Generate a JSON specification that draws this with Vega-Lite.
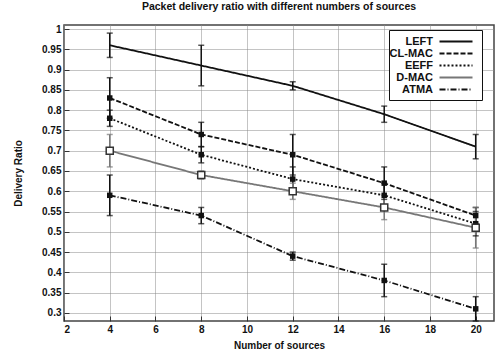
{
  "$schema": "https://vega.github.io/schema/vega-lite/v6.json",
  "autosize": "none",
  "width": 430,
  "height": 296,
  "padding": {"left": 64, "top": 25, "right": 3, "bottom": 39},
  "background": "white",
  "config": {
    "font": "Liberation Sans",
    "view": {"stroke": "#444", "strokeWidth": 1.5},
    "axis": {"labelFont": "Liberation Sans", "labelFontWeight": "bold", "labelFontSize": 10, "labelColor": "#111", "labelOverlap": false, "titleFont": "Liberation Sans", "titleFontWeight": "bold", "titleFontSize": 10, "titleColor": "#111", "grid": true, "gridDash": [1, 1], "gridColor": "#888", "gridWidth": 1, "gridOpacity": 1, "domain": false, "tickColor": "#333", "tickSize": -5, "labelPadding": 8},
    "legend": {"orient": "none", "legendX": 325, "legendY": 5, "strokeColor": "#111", "fillColor": "white", "padding": 5, "labelFont": "Liberation Sans", "labelFontWeight": "bold", "labelFontSize": 11, "labelColor": "#111", "labelAlign": "right", "symbolType": "M-3,0H3", "symbolSize": 121, "symbolStrokeWidth": 2, "rowPadding": -1}
  },
  "title": {"text": "Packet delivery ratio with different numbers of sources", "fontSize": 10.5, "fontWeight": "bold", "font": "Liberation Sans", "color": "#111", "offset": 12, "anchor": "middle"},
  "data": {"values": [
    {"series": "LEFT", "x": 4, "y": 0.96, "lo": 0.93, "hi": 0.99},
    {"series": "LEFT", "x": 8, "y": 0.91, "lo": 0.86, "hi": 0.96},
    {"series": "LEFT", "x": 12, "y": 0.86, "lo": 0.85, "hi": 0.87},
    {"series": "LEFT", "x": 16, "y": 0.79, "lo": 0.77, "hi": 0.81},
    {"series": "LEFT", "x": 20, "y": 0.71, "lo": 0.68, "hi": 0.74},
    {"series": "CL-MAC", "x": 4, "y": 0.83, "lo": 0.78, "hi": 0.88},
    {"series": "CL-MAC", "x": 8, "y": 0.74, "lo": 0.71, "hi": 0.77},
    {"series": "CL-MAC", "x": 12, "y": 0.69, "lo": 0.64, "hi": 0.74},
    {"series": "CL-MAC", "x": 16, "y": 0.62, "lo": 0.58, "hi": 0.66},
    {"series": "CL-MAC", "x": 20, "y": 0.54, "lo": 0.52, "hi": 0.56},
    {"series": "EEFF", "x": 4, "y": 0.78, "lo": 0.76, "hi": 0.8},
    {"series": "EEFF", "x": 8, "y": 0.69, "lo": 0.67, "hi": 0.71},
    {"series": "EEFF", "x": 12, "y": 0.63, "lo": 0.6, "hi": 0.66},
    {"series": "EEFF", "x": 16, "y": 0.59, "lo": 0.56, "hi": 0.62},
    {"series": "EEFF", "x": 20, "y": 0.52, "lo": 0.49, "hi": 0.55},
    {"series": "D-MAC", "x": 4, "y": 0.7, "lo": 0.66, "hi": 0.74},
    {"series": "D-MAC", "x": 8, "y": 0.64, "lo": 0.63, "hi": 0.65},
    {"series": "D-MAC", "x": 12, "y": 0.6, "lo": 0.58, "hi": 0.62},
    {"series": "D-MAC", "x": 16, "y": 0.56, "lo": 0.53, "hi": 0.59},
    {"series": "D-MAC", "x": 20, "y": 0.51, "lo": 0.46, "hi": 0.56},
    {"series": "ATMA", "x": 4, "y": 0.59, "lo": 0.54, "hi": 0.64},
    {"series": "ATMA", "x": 8, "y": 0.54, "lo": 0.52, "hi": 0.56},
    {"series": "ATMA", "x": 12, "y": 0.44, "lo": 0.43, "hi": 0.45},
    {"series": "ATMA", "x": 16, "y": 0.38, "lo": 0.34, "hi": 0.42},
    {"series": "ATMA", "x": 20, "y": 0.31, "lo": 0.28, "hi": 0.34}
  ]},
  "encoding": {
    "x": {"field": "x", "type": "quantitative", "title": "Number of sources", "scale": {"domain": [2, 20.8], "nice": false, "zero": false}, "axis": {"values": [2, 4, 6, 8, 10, 12, 14, 16, 18, 20], "titlePadding": 6}},
    "color": {"field": "series", "type": "nominal", "title": null, "scale": {"domain": ["LEFT", "CL-MAC", "EEFF", "D-MAC", "ATMA"], "range": ["#111", "#111", "#111", "#777", "#111"]}, "legend": {"encode": {"labels": {"update": {"x": {"value": 39}}}, "symbols": {"update": {"x": {"value": 62}}}}}}
  },
  "layer": [
    {
      "mark": {"type": "line", "strokeWidth": 1.8},
      "encoding": {
        "y": {"field": "y", "type": "quantitative", "title": "Delivery Ratio", "scale": {"domain": [0.28, 1.01], "nice": false, "zero": false}, "axis": {"values": [0.3, 0.35, 0.4, 0.45, 0.5, 0.55, 0.6, 0.65, 0.7, 0.75, 0.8, 0.85, 0.9, 0.95, 1], "format": "~g", "titlePadding": 18}},
        "strokeDash": {"field": "series", "type": "nominal", "title": null, "scale": {"domain": ["LEFT", "CL-MAC", "EEFF", "D-MAC", "ATMA"], "range": [[1, 0], [5, 2], [2, 2], [1, 0], [6, 2, 1, 2]]}, "legend": {"encode": {"labels": {"update": {"x": {"value": 39}}}, "symbols": {"update": {"x": {"value": 62}}}}}}
      }
    },
    {
      "mark": {"type": "rule", "strokeWidth": 1.5},
      "encoding": {
        "y": {"field": "lo", "type": "quantitative", "title": "Delivery Ratio", "axis": {"values": [0.3, 0.35, 0.4, 0.45, 0.5, 0.55, 0.6, 0.65, 0.7, 0.75, 0.8, 0.85, 0.9, 0.95, 1], "format": "~g", "titlePadding": 18}},
        "y2": {"field": "hi"}
      }
    },
    {
      "mark": {"type": "tick", "orient": "horizontal", "size": 6, "thickness": 1.5},
      "encoding": {
        "y": {"field": "lo", "type": "quantitative", "title": "Delivery Ratio", "axis": {"values": [0.3, 0.35, 0.4, 0.45, 0.5, 0.55, 0.6, 0.65, 0.7, 0.75, 0.8, 0.85, 0.9, 0.95, 1], "format": "~g", "titlePadding": 18}}
      }
    },
    {
      "mark": {"type": "tick", "orient": "horizontal", "size": 6, "thickness": 1.5},
      "encoding": {
        "y": {"field": "hi", "type": "quantitative", "title": "Delivery Ratio", "axis": {"values": [0.3, 0.35, 0.4, 0.45, 0.5, 0.55, 0.6, 0.65, 0.7, 0.75, 0.8, 0.85, 0.9, 0.95, 1], "format": "~g", "titlePadding": 18}}
      }
    },
    {
      "transform": [{"filter": "datum.series !== 'LEFT' && datum.series !== 'D-MAC'"}],
      "mark": {"type": "square", "size": 30, "opacity": 1},
      "encoding": {
        "y": {"field": "y", "type": "quantitative", "title": "Delivery Ratio", "axis": {"values": [0.3, 0.35, 0.4, 0.45, 0.5, 0.55, 0.6, 0.65, 0.7, 0.75, 0.8, 0.85, 0.9, 0.95, 1], "format": "~g", "titlePadding": 18}}
      }
    },
    {
      "transform": [{"filter": "datum.series === 'D-MAC'"}],
      "mark": {"type": "point", "shape": "square", "size": 50, "fill": "white", "stroke": "#333", "strokeWidth": 1.5, "opacity": 1},
      "encoding": {
        "y": {"field": "y", "type": "quantitative", "title": "Delivery Ratio", "axis": {"values": [0.3, 0.35, 0.4, 0.45, 0.5, 0.55, 0.6, 0.65, 0.7, 0.75, 0.8, 0.85, 0.9, 0.95, 1], "format": "~g", "titlePadding": 18}},
        "color": {"value": "#333"}
      }
    }
  ]
}
